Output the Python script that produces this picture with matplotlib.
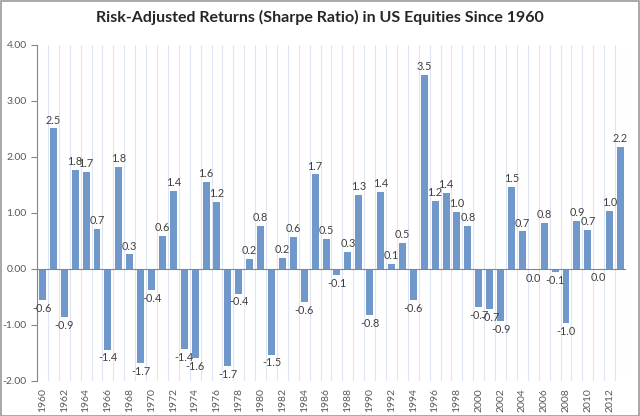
import matplotlib
matplotlib.use("Agg")
import matplotlib.pyplot as plt
import numpy as np

years = list(range(1960, 2014))
sharpe = [-0.56, 2.51, -0.86, 1.77, 1.73, 0.72, -1.44, 1.82, 0.26, -1.68,
          -0.38, 0.59, 1.39, -1.43, -1.59, 1.56, 1.20, -1.74, -0.44, 0.18,
          0.77, -1.53, 0.20, 0.58, -0.59, 1.69, 0.54, -0.11, 0.30, 1.33,
          -0.83, 1.37, 0.09, 0.47, -0.56, 3.46, 1.22, 1.36, 1.02, 0.77,
          -0.68, -0.72, -0.93, 1.46, 0.67, -0.02, 0.83, -0.06, -0.96, 0.86,
          0.70, -0.01, 1.04, 2.18]
title = "Risk-Adjusted Returns (Sharpe Ratio) in US Equities Since 1960"
yticks = [-2, -1, 0, 1, 2, 3, 4]

plt.rcParams['font.family'] = ['Lato', 'DejaVu Sans']

fig = plt.figure(figsize=(6.4, 4.16), dpi=100)
ax = fig.add_axes([37/640, 1-381/416, (626-37)/640, (381-45)/416])

x = np.arange(len(years))
ax.bar(x, sharpe, width=0.64, color="#7098cb", zorder=3)

for xi, v in zip(x, sharpe):
    lab = f"{round(v, 1) + 0.0:.1f}"
    if v >= 0:
        ax.text(xi, v + 0.05, lab, ha="center", va="bottom", fontsize=7.8, color="#404040", zorder=4)
    else:
        ax.text(xi, v - 0.05, lab, ha="center", va="top", fontsize=7.8, color="#404040", zorder=4)

ax.set_xlim(-0.5, len(years) - 0.5)
ax.set_ylim(-2, 4)
ax.set_yticks(yticks)
ax.set_yticklabels([f"{t:.2f}" for t in yticks])
even = [i for i, y in enumerate(years) if y % 2 == 0]
ax.set_xticks(even)
ax.set_xticklabels([str(years[i]) for i in even], rotation=90)
ax.set_xticks(np.arange(-0.5, len(years), 1.0), minor=True)
ax.grid(True, which="minor", axis="x", color="#dde6f1", linewidth=0.8, zorder=0)
ax.grid(False, which="major")
ax.tick_params(axis="x", which="both", length=0, labelsize=7.5, pad=5)
ax.tick_params(axis="y", length=4, labelsize=7.5, width=0.8, colors="#868686")
for lbl in ax.get_yticklabels():
    lbl.set_color("#595959")
for lbl in ax.get_xticklabels():
    lbl.set_color("#595959")

for s in ["top", "right", "bottom"]:
    ax.spines[s].set_visible(False)
ax.spines["left"].set_color("#868686")
ax.spines["left"].set_linewidth(0.8)
ax.axhline(0, color="#868686", linewidth=0.8, zorder=4)

fig.text(0.5, 1 - 17/416, title, ha="center", va="center", fontsize=11.5, fontweight="bold", color="#262626")

border = plt.Rectangle((0.001, 0.001), 0.997, 0.996, transform=fig.transFigure,
                       fill=False, edgecolor="#9a9a9a", linewidth=1.2)
fig.patches.append(border)

fig.savefig("out.png", dpi=100)
